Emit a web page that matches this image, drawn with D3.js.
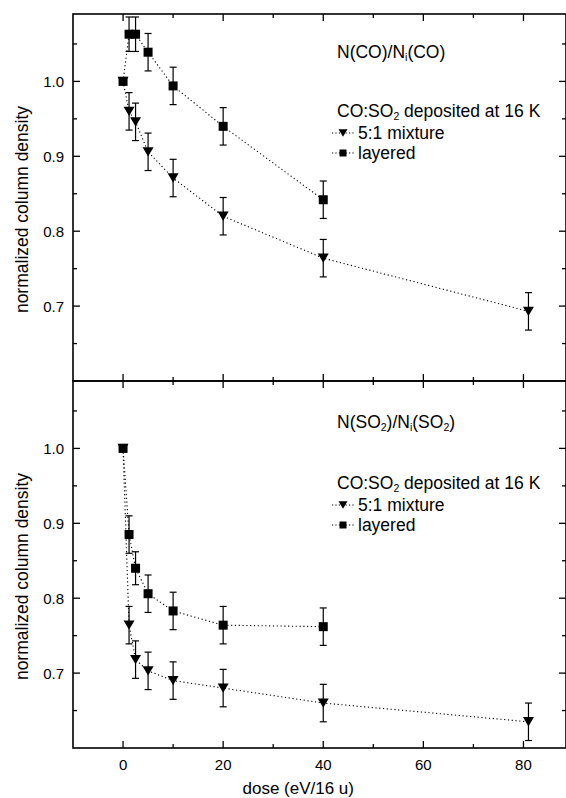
<!DOCTYPE html>
<html>
<head>
<meta charset="utf-8">
<script src="https://cdn.jsdelivr.net/npm/d3@7"></script>
<style>
  body { margin: 0; background: #fff; }
  svg { display: block; font-family: "Liberation Sans", Arial, sans-serif; }
</style>
</head>
<body>
<svg id="chart" width="566" height="798"></svg>
<script>
// dose values (eV/16 u)
const doseMix = [0, 1.2, 2.5, 5, 10, 20, 40, 81];
const doseLay = [0, 1.2, 2.5, 5, 10, 20, 40];

// top panel: N(CO)/Ni(CO)
const coMix = [1.0, 0.960, 0.946, 0.906, 0.871, 0.820, 0.764, 0.693];
const coMixErr = [0, 0.025, 0.025, 0.025, 0.025, 0.025, 0.025, 0.025];
const coLay = [1.0, 1.063, 1.063, 1.039, 0.994, 0.940, 0.842];
const coLayErr = [0, 0.023, 0.023, 0.025, 0.025, 0.025, 0.025];

// bottom panel: N(SO2)/Ni(SO2)
const so2Mix = [1.0, 0.764, 0.718, 0.703, 0.690, 0.680, 0.660, 0.635];
const so2MixErr = [0, 0.025, 0.025, 0.025, 0.025, 0.025, 0.025, 0.025];
const so2Lay = [1.0, 0.885, 0.840, 0.806, 0.783, 0.764, 0.762];
const so2LayErr = [0, 0.025, 0.022, 0.025, 0.025, 0.025, 0.025];

const xTicks = [0, 20, 40, 60, 80];
const yTicks = [0.7, 0.8, 0.9, 1.0];

const svg = d3.select("#chart");
const left = 73, right = 566;
const x = d3.scaleLinear().domain([-10, 88.5]).range([left, right]);

const panels = [
  {top: 14, bottom: 381, mix: coMix, mixErr: coMixErr, lay: coLay, layErr: coLayErr,
   titleY: 52, legY: 111, xLabels: false},
  {top: 381, bottom: 748, mix: so2Mix, mixErr: so2MixErr, lay: so2Lay, layErr: so2LayErr,
   titleY: 422, legY: 483, xLabels: true}
];

function drawTri(g, cx, cy, w) {
  // downward triangle
  const h = w * 0.85;
  g.append("path")
    .attr("d", `M${cx - w / 2},${cy - h / 2}L${cx + w / 2},${cy - h / 2}L${cx},${cy + h / 2}Z`)
    .attr("fill", "#000");
}
function drawSq(g, cx, cy, s) {
  g.append("rect").attr("x", cx - s / 2).attr("y", cy - s / 2)
    .attr("width", s).attr("height", s).attr("fill", "#000");
}

function series(g, y, xs, ys, errs, kind) {
  const line = d3.line().x((d, i) => x(xs[i])).y(d => y(d));
  g.append("path").datum(ys).attr("d", line)
    .attr("fill", "none").attr("stroke", "#000")
    .attr("stroke-width", 1.1).attr("stroke-dasharray", "1.2,2.6");
  ys.forEach((v, i) => {
    const cx = x(xs[i]);
    if (errs[i] > 0) {
      const y1 = y(v + errs[i]), y2 = y(v - errs[i]);
      g.append("line").attr("x1", cx).attr("x2", cx).attr("y1", y1).attr("y2", y2)
        .attr("stroke", "#000").attr("stroke-width", 1.2);
      [y1, y2].forEach(yy => g.append("line")
        .attr("x1", cx - 3.5).attr("x2", cx + 3.5).attr("y1", yy).attr("y2", yy)
        .attr("stroke", "#000").attr("stroke-width", 1.2));
    }
    if (kind === "tri") drawTri(g, cx, y(v), 11);
    else drawSq(g, cx, y(v), 9);
  });
}

function richText(g, tx, ty, parts, size) {
  // parts: [text, isSub, dy]
  const t = g.append("text").attr("x", tx).attr("y", ty)
    .attr("font-size", size).attr("dominant-baseline", "central");
  parts.forEach(p => {
    const s = t.append("tspan").text(p[0]);
    if (p[1]) s.attr("font-size", size * 0.6).attr("dy", 5);
    else s.attr("dy", p[2] || 0);
  });
  return t;
}

panels.forEach((p, idx) => {
  const y = d3.scaleLinear().domain([0.6, 1.09]).range([p.bottom, p.top]);
  const g = svg.append("g");

  // ticks on all four sides, pointing inward
  const minorX = d3.range(0, 90, 10).filter(v => !xTicks.includes(v));
  const minorY = [0.65, 0.75, 0.85, 0.95, 1.05];
  const tick = (x1, y1, x2, y2) => g.append("line")
    .attr("x1", x1).attr("y1", y1).attr("x2", x2).attr("y2", y2)
    .attr("stroke", "#000").attr("stroke-width", 1.3);
  xTicks.forEach(v => { tick(x(v), p.top, x(v), p.top + 7); tick(x(v), p.bottom, x(v), p.bottom - 7); });
  minorX.forEach(v => { tick(x(v), p.top, x(v), p.top + 4); tick(x(v), p.bottom, x(v), p.bottom - 4); });
  yTicks.forEach(v => { tick(left, y(v), left + 7, y(v)); tick(right, y(v), right - 7, y(v)); });
  minorY.forEach(v => { tick(left, y(v), left + 4, y(v)); tick(right, y(v), right - 4, y(v)); });

  // frame
  g.append("rect").attr("x", left).attr("y", p.top)
    .attr("width", right - left).attr("height", p.bottom - p.top)
    .attr("fill", "none").attr("stroke", "#000").attr("stroke-width", 1.6);

  // y tick labels
  g.selectAll(".yl").data(yTicks).enter().append("text")
    .attr("x", left - 9).attr("y", d => y(d)).attr("text-anchor", "end")
    .attr("dominant-baseline", "central").attr("font-size", 15)
    .text(d => d3.format(".1f")(d));

  // y axis label
  g.append("text")
    .attr("transform", `translate(22,${(p.top + p.bottom) / 2 + 12}) rotate(-90)`)
    .attr("text-anchor", "middle").attr("dominant-baseline", "central")
    .attr("font-size", 17.5).text("normalized column density");

  if (p.xLabels) {
    g.selectAll(".xl").data(xTicks).enter().append("text")
      .attr("x", d => x(d)).attr("y", p.bottom + 16).attr("text-anchor", "middle")
      .attr("dominant-baseline", "central").attr("font-size", 15).text(d => d);
    g.append("text").attr("x", x(35)).attr("y", p.bottom + 40)
      .attr("text-anchor", "middle").attr("dominant-baseline", "central")
      .attr("font-size", 17).text("dose (eV/16 u)");
  }

  series(g, y, doseLay, p.lay, p.layErr, "sq");
  series(g, y, doseMix, p.mix, p.mixErr, "tri");

  // title
  if (idx === 0) {
    richText(g, 337, p.titleY, [["N(CO)/N"], ["i", true], ["(CO)", false, -5]], 17.5);
  } else {
    richText(g, 337, p.titleY, [["N(SO"], ["2", true], [")/N", false, -5], ["i", true], ["(SO", false, -5], ["2", true], [")", false, -5]], 17.5);
  }
  richText(g, 337, p.legY, [["CO:SO"], ["2", true], [" deposited at 16 K", false, -5]], 17.5);

  // legend entries
  const entries = [["tri", "5:1 mixture"], ["sq", "layered"]];
  entries.forEach((e, i) => {
    const ly = p.legY + 22 + i * 20;
    g.append("line").attr("x1", 332).attr("x2", 354).attr("y1", ly).attr("y2", ly)
      .attr("stroke", "#000").attr("stroke-width", 1.1).attr("stroke-dasharray", "1.2,2.2");
    if (e[0] === "tri") drawTri(g, 343, ly, 9);
    else drawSq(g, 343, ly, 7);
    g.append("text").attr("x", 358).attr("y", ly).attr("dominant-baseline", "central")
      .attr("font-size", 17.5).text(e[1]);
  });
});
</script>
</body>
</html>
